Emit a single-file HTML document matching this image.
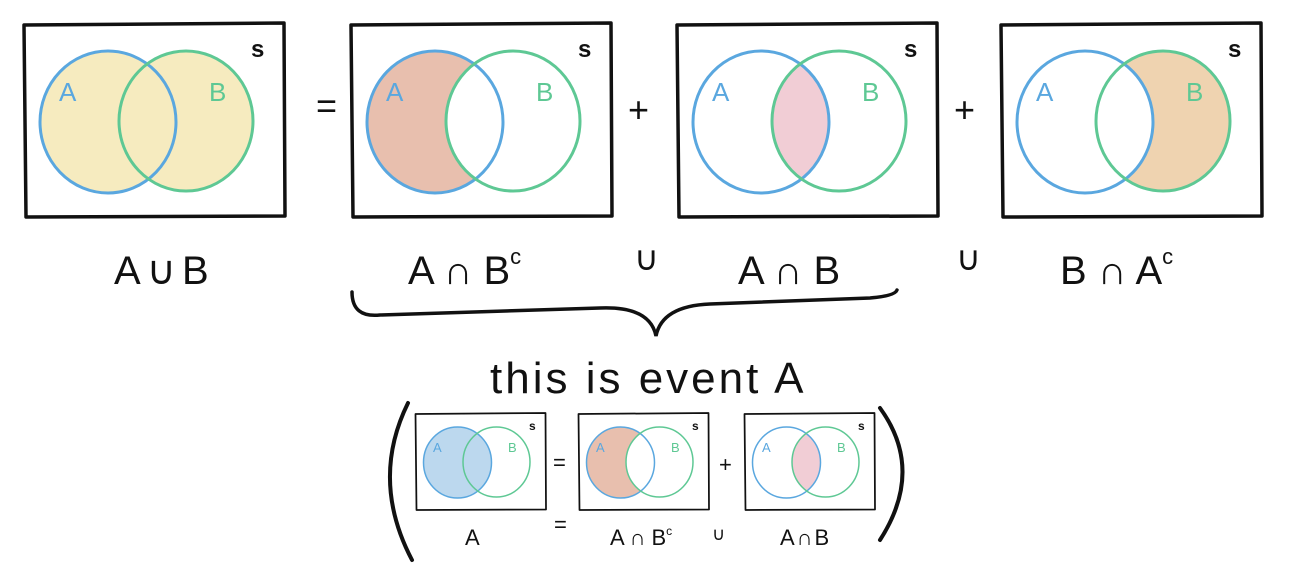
<!DOCTYPE html>
<html><head><meta charset="utf-8"><style>
html,body{margin:0;padding:0;background:#fff;width:1310px;height:573px;overflow:hidden}
text{font-family:"Liberation Sans",sans-serif}
</style></head><body>
<svg width="1310" height="573" viewBox="0 0 1310 573" xmlns="http://www.w3.org/2000/svg">
<defs>
  <clipPath id="cB"><ellipse cx="163" cy="98" rx="67" ry="70"/></clipPath>
  <mask id="mNotB"><rect x="0" y="0" width="263" height="194" fill="#fff"/><ellipse cx="163" cy="98" rx="67" ry="70" fill="#000"/></mask>
  <mask id="mNotA"><rect x="0" y="0" width="263" height="194" fill="#fff"/><ellipse cx="85" cy="99" rx="68" ry="71" fill="#000"/></mask>
  <g id="frame">
    <path d="M1,2 L261,0 L262,193 L3,194 Z" fill="none" stroke="#111" stroke-width="3.5" stroke-linejoin="round"/>
    <text x="228" y="34" font-size="24" font-weight="bold" fill="#111">s</text>
    <ellipse cx="85" cy="99" rx="68" ry="71" fill="none" stroke="#5aa7df" stroke-width="3"/>
    <ellipse cx="163" cy="98" rx="67" ry="70" fill="none" stroke="#5ec894" stroke-width="3"/>
    <text x="36" y="78" font-size="26" fill="#5aa7df">A</text>
    <text x="186" y="78" font-size="26" fill="#5ec894">B</text>
  </g>
</defs>

<g transform="translate(23,23)">
  <ellipse cx="85" cy="99" rx="68" ry="71" fill="#f6ebbf"/>
  <ellipse cx="163" cy="98" rx="67" ry="70" fill="#f6ebbf"/>
  <use href="#frame"/>
</g>
<g transform="translate(350,23)">
  <ellipse cx="85" cy="99" rx="68" ry="71" fill="#e8bfae" mask="url(#mNotB)"/>
  <use href="#frame"/>
</g>
<g transform="translate(676,23)">
  <ellipse cx="85" cy="99" rx="68" ry="71" fill="#f1cdd5" clip-path="url(#cB)"/>
  <use href="#frame"/>
</g>
<g transform="translate(1000,23)">
  <ellipse cx="163" cy="98" rx="67" ry="70" fill="#efd3b0" mask="url(#mNotA)"/>
  <use href="#frame"/>
</g>

<g fill="#111" font-size="40">
  <text x="316" y="118" font-size="36">=</text>
  <text x="628" y="122" font-size="36">+</text>
  <text x="954" y="122" font-size="36">+</text>
  <text x="114" y="284" letter-spacing="6">A∪B</text>
  <text x="408" y="284">A ∩ B<tspan font-size="22" dy="-20">c</tspan></text>
  <text x="634" y="270" font-size="34">∪</text>
  <text x="738" y="284">A ∩ B</text>
  <text x="956" y="270" font-size="34">∪</text>
  <text x="1060" y="284">B ∩ A<tspan font-size="22" dy="-20">c</tspan></text>
</g>

<path d="M352,292 Q352,318 380,315 L600,308 Q650,306 656,336 Q662,306 710,304 L870,298 Q895,296 897,290" fill="none" stroke="#111" stroke-width="3.5" stroke-linecap="round"/>

<text x="490" y="393" font-size="44" fill="#111" letter-spacing="3">this is event A</text>

<path d="M408,403 Q370,480 412,560" fill="none" stroke="#111" stroke-width="4" stroke-linecap="round"/>
<path d="M880,408 Q925,470 880,540" fill="none" stroke="#111" stroke-width="4" stroke-linecap="round"/>

<g transform="translate(415,413) scale(0.5)">
  <ellipse cx="85" cy="99" rx="68" ry="71" fill="#bcd8ee"/>
  <use href="#frame"/>
</g>
<g transform="translate(578,413) scale(0.5)">
  <ellipse cx="85" cy="99" rx="68" ry="71" fill="#e8bfae" mask="url(#mNotB)"/>
  <use href="#frame"/>
</g>
<g transform="translate(744,413) scale(0.5)">
  <ellipse cx="85" cy="99" rx="68" ry="71" fill="#f1cdd5" clip-path="url(#cB)"/>
  <use href="#frame"/>
</g>
<g fill="#111" font-size="22">
  <text x="553" y="470">=</text>
  <text x="719" y="472">+</text>
  <text x="465" y="545">A</text>
  <text x="554" y="532">=</text>
  <text x="610" y="545">A ∩ B<tspan font-size="12" dy="-10">c</tspan></text>
  <text x="712" y="540" font-size="18">∪</text>
  <text x="780" y="545" letter-spacing="2">A∩B</text>
</g>
</svg>
</body></html>
